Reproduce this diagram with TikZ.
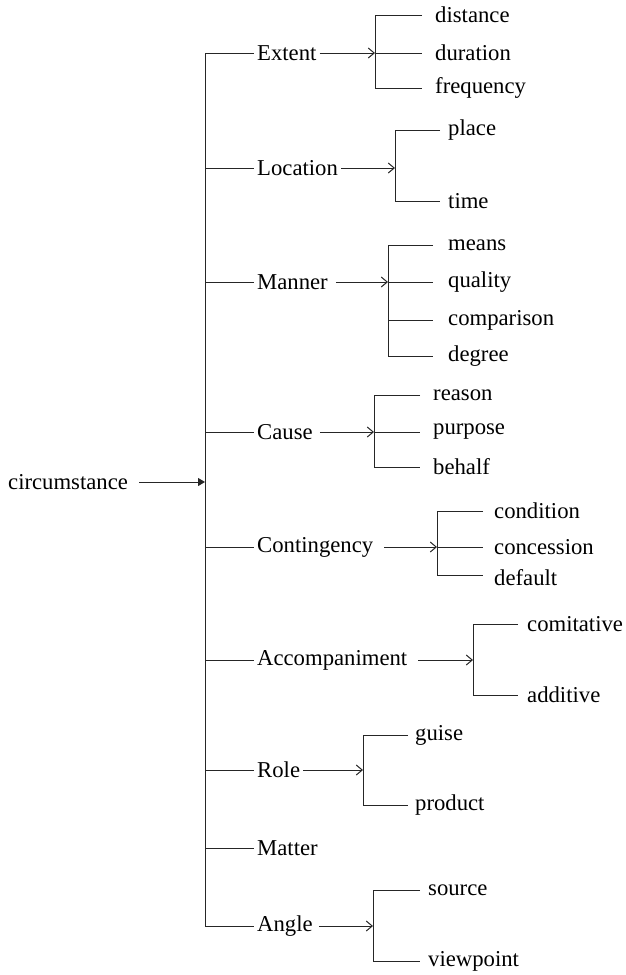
\documentclass[tikz,border=0pt]{standalone}
\usepackage{fontspec}
\setmainfont{Liberation Serif}
\usetikzlibrary{arrows.meta}
\begin{document}
\begin{tikzpicture}[x=1pt,y=-1pt,
  every node/.style={font=\fontsize{22.7}{27}\selectfont, inner ysep=0pt, text=black},
  cat/.style={anchor=west, inner xsep=3pt},
  leaf/.style={anchor=west, inner xsep=#1},
  leaf/.default=10pt,
  ln/.style={line width=1pt, draw=black!85},
  subarrow/.style={ln, -{Straight Barb[length=6pt,width=10pt]}},
  mainarrow/.style={ln, -{Triangle[length=7pt,width=8pt]}}]
\useasboundingbox (0,0) rectangle (626,975);

% root
\node[anchor=west, inner xsep=3pt] (circ) at (5,482) {circumstance};
\coordinate (mj) at (205,482);
\coordinate (mtop) at (205,53);
\coordinate (mbot) at (205,926);
\draw[ln] (mtop) -- (mbot);
\draw[mainarrow] ([xshift=8pt]circ.east) -- (mj);

% categories
\node[cat] (ext) at (254,53) {Extent};
\node[cat] (loc) at (254,168) {Location};
\node[cat] (man) at (254,282) {Manner};
\node[cat] (cau) at (254,432) {Cause};
\node[cat] (con) at (254,547) {Contingency};
\node[cat] (acc) at (254,660) {Accompaniment};
\node[cat] (rol) at (254,770) {Role};
\node[cat] (mat) at (254,848) {Matter};
\node[cat] (ang) at (254,926) {Angle};
\foreach \n/\y in {ext/53,loc/168,man/282,cau/432,con/547,acc/660,rol/770,mat/848,ang/926}
  \draw[ln] (205,\y) -- (\n.west);

% Extent
\node[leaf=13pt] (dist) at (422,15) {distance};
\node[leaf=13pt] (dur) at (422,53) {duration};
\node[leaf=13pt] (freq) at (422,88) {frequency};
\coordinate (eb) at (375,53);
\draw[ln] (dist.west) -- (375,15) -- (375,88) -- (freq.west);
\draw[ln] (eb) -- (dur.west);
\draw[subarrow] (ext.east) -- (eb);

% Location
\node[leaf=8pt] (plc) at (440,130) {place};
\node[leaf=8pt] (tim) at (440,201) {time};
\coordinate (lb) at (395,168);
\draw[ln] (plc.west) -- (395,130) -- (395,201) -- (tim.west);
\draw[subarrow] (loc.east) -- (lb);

% Manner
\node[leaf=15pt] (mea) at (433,245) {means};
\node[leaf=15pt] (qua) at (433,282) {quality};
\node[leaf=15pt] (cmp) at (433,320) {comparison};
\node[leaf=15pt] (deg) at (433,356) {degree};
\coordinate (nb) at (388,282);
\draw[ln] (mea.west) -- (388,245) -- (388,356) -- (deg.west);
\draw[ln] (nb) -- (qua.west);
\draw[ln] (388,320) -- (cmp.west);
\draw[subarrow] ([xshift=5pt]man.east) -- (nb);

% Cause
\node[leaf=13pt] (rea) at (420,395) {reason};
\node[leaf=13pt] (pur) at (420,432) {purpose};
\node[leaf=13pt] (beh) at (420,467) {behalf};
\coordinate (cb) at (374,432);
\draw[ln] (rea.west) -- (374,395) -- (374,467) -- (beh.west);
\draw[ln] (cb) -- (pur.west);
\draw[subarrow] ([xshift=4pt]cau.east) -- (cb);

% Contingency
\node[leaf=11pt] (cnd) at (483,511) {condition};
\node[leaf=11pt] (ccs) at (483,547) {concession};
\node[leaf=11pt] (dft) at (483,578) {default};
\coordinate (gb) at (437,547);
\draw[ln] (cnd.west) -- (437,511) -- (437,575) -- ([yshift=3pt]dft.west);
\draw[ln] (gb) -- (ccs.west);
\draw[subarrow] ([xshift=8pt]con.east) -- (gb);

% Accompaniment
\node[leaf=9pt] (com) at (518,624) {comitative};
\node[leaf=9pt] (add) at (518,695) {additive};
\coordinate (ab) at (473,660);
\draw[ln] (com.west) -- (473,624) -- (473,695) -- (add.west);
\draw[subarrow] ([xshift=8pt]acc.east) -- (ab);

% Role
\node[leaf=7pt] (gui) at (408,735) {guise};
\node[leaf=7pt] (pro) at (408,805) {product};
\coordinate (rb) at (363,770);
\draw[ln] (gui.west) -- (363,735) -- (363,805) -- (pro.west);
\draw[subarrow] (rol.east) -- (rb);

% Angle
\node[leaf=8pt] (src) at (420,890) {source};
\node[leaf=8pt] (vpt) at (420,961) {viewpoint};
\coordinate (gb2) at (373,926);
\draw[ln] (src.west) -- (373,890) -- (373,961) -- (vpt.west);
\draw[subarrow] ([xshift=3pt]ang.east) -- (gb2);
\end{tikzpicture}
\end{document}
